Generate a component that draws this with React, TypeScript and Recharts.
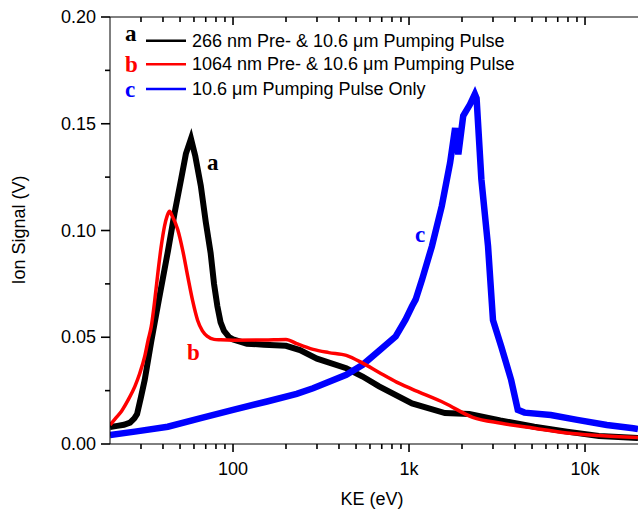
import React from "react";
import { LineChart, Line, XAxis, YAxis } from "recharts";

// curve a: 266 nm pre-pulse + 10.6 um pumping pulse
const keA = [20, 22, 24, 26, 27.5, 28.5, 30, 31.5, 34.3, 38, 42.6, 46.5, 50.7, 54, 57.7, 61, 65.6, 70, 74.6, 78, 81.5, 85, 88.8, 95, 100, 120, 150, 200, 240, 300, 440, 545, 676, 1040, 1600, 2200, 3300, 5150, 7900, 12000, 20000];
const sigA = [0.008, 0.0085, 0.009, 0.01, 0.012, 0.014, 0.022, 0.03, 0.048, 0.068, 0.09, 0.108, 0.124, 0.136, 0.143, 0.135, 0.121, 0.104, 0.0895, 0.075, 0.0645, 0.057, 0.053, 0.05, 0.049, 0.047, 0.0465, 0.046, 0.044, 0.04, 0.0355, 0.0316, 0.027, 0.019, 0.0145, 0.014, 0.011, 0.0081, 0.0058, 0.0038, 0.0028];

// curve b: 1064 nm pre-pulse + 10.6 um pumping pulse
const keB = [20, 21.5, 23.3, 25.5, 27.7, 29.5, 31.5, 33, 34.3, 36, 37.4, 39, 40.8, 42.3, 43.6, 45, 48.5, 52, 55.3, 59, 62.9, 67, 71.6, 78, 85, 100, 150, 200, 230, 285, 350, 440, 545, 676, 850, 1040, 1600, 2300, 3340, 5150, 7900, 12000, 20000];
const sigB = [0.0089, 0.012, 0.0155, 0.021, 0.027, 0.033, 0.041, 0.049, 0.055, 0.068, 0.08, 0.092, 0.102, 0.107, 0.109, 0.107, 0.1005, 0.09, 0.0785, 0.067, 0.058, 0.053, 0.0504, 0.049, 0.0488, 0.0486, 0.0487, 0.049, 0.047, 0.0443, 0.0428, 0.0415, 0.0379, 0.0335, 0.029, 0.0257, 0.0191, 0.0125, 0.0097, 0.0074, 0.0052, 0.004, 0.003];

// curve c: 10.6 um pumping pulse only
const keC = [20, 27.7, 42.6, 65.6, 100, 156, 230, 285, 440, 545, 676, 840, 955, 1040, 1090, 1186, 1349, 1535, 1712, 1828, 1906, 2032, 2218, 2367, 2420, 2577, 2812, 3000, 3342, 3805, 4150, 4530, 6390, 9030, 13300, 18800, 20000];
const sigC = [0.0042, 0.0058, 0.0081, 0.0121, 0.016, 0.0199, 0.0235, 0.0261, 0.0324, 0.0371, 0.0437, 0.0504, 0.0582, 0.0645, 0.0676, 0.077, 0.0926, 0.1114, 0.1318, 0.148, 0.1357, 0.1537, 0.159, 0.1639, 0.162, 0.124, 0.0926, 0.058, 0.0457, 0.03, 0.016, 0.0147, 0.0136, 0.0113, 0.0089, 0.0074, 0.007];

const xMajor = [100, 1000, 10000];
const xMajorLabels = ["100", "1k", "10k"];
const xTicks = [30, 40, 50, 60, 70, 80, 90, 100, 200, 300, 400, 500, 600, 700, 800, 900, 1000, 2000, 3000, 4000, 5000, 6000, 7000, 8000, 9000, 10000];
const yTicks = [0, 0.025, 0.05, 0.075, 0.1, 0.125, 0.15, 0.175, 0.2];

const legendRows = [
  { tag: "a", text: "266 nm Pre- & 10.6 \u03bcm Pumping Pulse", color: "#000000" },
  { tag: "b", text: "1064 nm Pre- & 10.6 \u03bcm Pumping Pulse", color: "#ff0000" },
  { tag: "c", text: "10.6 \u03bcm Pumping Pulse Only", color: "#0000ff" },
];

const zip = (ke: number[], sig: number[]) => ke.map((k, i) => ({ ke: k, v: sig[i] }));
const dataA = zip(keA, sigA);
const dataB = zip(keB, sigB);
const dataC = zip(keC, sigC);

const SANS = "'Liberation Sans', Arial, sans-serif";
const SERIF = "'Liberation Serif', 'Times New Roman', serif";

const BottomTick = (props: any) => {
  const { x, y, payload } = props;
  const idx = xMajor.indexOf(payload.value);
  const major = idx >= 0;
  return (
    <g>
      <path d={`M${x},${y}L${x},${y + (major ? 8 : 5)}`} stroke="#000" strokeWidth={1.6} />
      {major ? (
        <text x={x} y={y + 31} textAnchor="middle" fontSize={18} fontFamily={SANS} fill="#000">
          {xMajorLabels[idx]}
        </text>
      ) : null}
    </g>
  );
};

const TopTick = (props: any) => {
  const { x, y, payload } = props;
  const major = xMajor.includes(payload.value);
  return <path d={`M${x},${y}L${x},${y + (major ? 8 : 5)}`} stroke="#000" strokeWidth={1.6} />;
};

const LeftTick = (props: any) => {
  const { x, y, payload } = props;
  const major = Math.round(payload.value * 1000) % 50 === 0;
  return (
    <g>
      <path d={`M${x},${y}L${x - (major ? 9 : 5)},${y}`} stroke="#000" strokeWidth={1.6} />
      {major ? (
        <text x={x - 14} y={y + 6} textAnchor="end" fontSize={18} fontFamily={SANS} fill="#000">
          {payload.value.toFixed(2)}
        </text>
      ) : null}
    </g>
  );
};

// legend, curve tags and axis titles sit in their own svg laid over the chart
function Overlay() {
  return (
    <svg width={638} height={513} style={{ position: "absolute", left: 0, top: 0, pointerEvents: "none" }}>
      {legendRows.map((row, i) => {
        const ly = [40.7, 64.3, 89][i];
        const tagY = [41, 71.5, 96.5][i];
        return (
          <g key={row.tag}>
            <text x={125} y={tagY} fontSize={23} fontWeight="bold" fontFamily={SERIF} fill={row.color}>
              {row.tag}
            </text>
            <line x1={146} x2={186} y1={ly} y2={ly} stroke={row.color} strokeWidth={2.5} />
            <text x={192} y={ly + 6} fontSize={18} fontFamily={SANS} fill="#000">
              {row.text}
            </text>
          </g>
        );
      })}
      <text x={207} y={170} fontSize={23} fontWeight="bold" fontFamily={SERIF} fill="#000000">a</text>
      <text x={187} y={360} fontSize={23} fontWeight="bold" fontFamily={SERIF} fill="#ff0000">b</text>
      <text x={415} y={242} fontSize={23} fontWeight="bold" fontFamily={SERIF} fill="#0000ff">c</text>
      <text x={372} y={505} textAnchor="middle" fontSize={18} fontFamily={SANS} fill="#000">KE (eV)</text>
      <text x={25} y={230} transform="rotate(-90 25 230)" textAnchor="middle" fontSize={18} fontFamily={SANS} fill="#000">
        Ion Signal (V)
      </text>
    </svg>
  );
}

export default function App() {
  return (
    <div style={{ position: "absolute", left: 0, top: 0, width: 638, height: 513, background: "#fff" }}>
      <LineChart width={638} height={513} margin={{ top: 16, right: 0, bottom: 0, left: 0 }}>
        <XAxis
          dataKey="ke"
          type="number"
          scale="log"
          domain={[20, 20000]}
          allowDataOverflow
          ticks={xTicks}
          interval={0}
          tickSize={0}
          tickMargin={0}
          tick={<BottomTick />}
          height={69}
          stroke="#000"
        />
        <XAxis
          xAxisId="top"
          orientation="top"
          dataKey="ke"
          type="number"
          scale="log"
          domain={[20, 20000]}
          allowDataOverflow
          ticks={xTicks}
          interval={0}
          tickSize={0}
          tickMargin={0}
          tick={<TopTick />}
          height={1}
          stroke="#000"
        />
        <YAxis
          dataKey="v"
          type="number"
          domain={[0, 0.2]}
          ticks={yTicks}
          interval={0}
          tickSize={0}
          tickMargin={0}
          tick={<LeftTick />}
          width={110}
          stroke="#000"
        />
        {/* black series bound to the mirrored top axis so that axis gets drawn */}
        <Line xAxisId="top" data={dataA} dataKey="v" type="linear" stroke="#000000" strokeWidth={6} dot={false} isAnimationActive={false} />
        <Line data={dataC} dataKey="v" type="linear" stroke="#0000ff" strokeWidth={6.5} dot={false} isAnimationActive={false} />
        <Line data={dataB} dataKey="v" type="monotone" stroke="#ff0000" strokeWidth={3.5} dot={false} isAnimationActive={false} />
      </LineChart>
      <Overlay />
    </div>
  );
}
